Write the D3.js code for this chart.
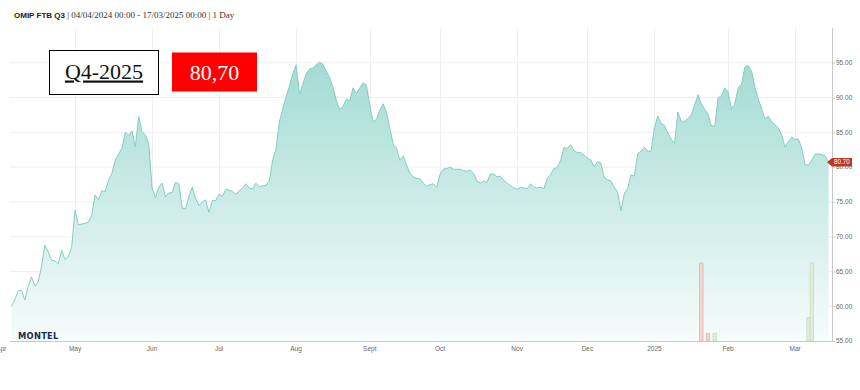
<!DOCTYPE html>
<html>
<head>
<meta charset="utf-8">
<script src="https://cdn.jsdelivr.net/npm/d3@7"></script>
<style>
body{margin:0;background:#fff;}
</style>
</head>
<body>
<script>
var canvaswidth=860;
var canvasheight=390;

// daily closes, one per trading day from 04/04/2024 (index 0) to 17/03/2025 (index 244)
var prices=[60.0,60.9,62.2,62.3,60.9,62.8,64.2,62.9,63.5,65.7,68.8,67.8,66.6,66.5,66.1,68.0,66.7,67.1,68.5,73.8,
71.7,71.8,71.9,72.1,73.1,76.0,75.3,76.6,76.5,78.1,79.1,81.0,81.9,82.7,85.0,84.6,85.2,82.9,87.3,85.1,
84.6,83.4,77.0,75.6,77.1,77.7,75.7,76.3,76.3,77.8,77.6,74.1,74.0,75.8,77.1,75.5,74.5,75.0,75.3,73.5,
75.2,75.2,76.1,75.8,76.8,76.7,76.5,76.1,76.6,77.0,77.6,77.0,76.9,77.7,77.2,77.3,77.4,78.0,81.0,82.6,
86.5,88.3,90.1,91.6,93.4,94.7,90.5,91.9,93.4,94.1,94.2,94.7,95.1,94.8,93.8,92.9,91.5,89.6,88.3,88.7,
89.8,89.5,91.4,90.6,91.4,92.1,91.8,88.9,86.5,86.9,88.2,89.1,87.9,85.6,83.3,82.7,81.0,81.6,80.3,79.1,
78.6,78.4,78.3,77.7,77.2,77.5,77.6,77.1,79.0,79.7,79.8,80.0,79.7,79.7,79.7,79.5,79.4,79.6,79.1,78.0,
77.7,78.0,77.8,79.0,79.0,78.6,78.7,78.1,77.7,77.3,77.0,76.8,77.1,77.0,76.9,77.6,77.1,77.0,77.1,76.9,
78.4,78.9,79.8,79.9,81.0,82.8,82.7,83.2,82.4,82.1,82.1,81.7,81.3,81.0,80.1,80.8,80.6,78.5,78.2,78.0,
77.1,76.4,73.7,76.2,76.9,78.9,78.7,81.9,82.3,82.8,82.3,82.3,85.7,87.3,86.3,86.0,84.9,84.0,83.4,87.9,
86.6,86.6,87.0,87.5,88.9,90.4,89.1,88.3,87.6,85.9,85.9,89.9,90.3,91.4,90.8,88.3,89.1,91.4,91.9,94.4,
94.6,93.8,91.5,89.8,88.4,87.0,87.3,86.5,86.1,85.6,84.6,82.9,83.7,84.3,84.0,84.0,82.7,80.3,80.3,81.0,
81.9,81.9,81.8,81.6,80.7];

// traded volume, on the trading day index
var volumeDays=[206,208,210,238,239];
var volumes=[50,5,5,15,50];

// month ticks, on the trading day index (Apr 1 falls before the first day)
var monthLabels=["Apr","May","Jun","Jul","Aug","Sept","Oct","Nov","Dec","2025","Feb","Mar"];
var monthDays=[-3,19,42,62,85,107,128,151,172,192,214,234];

var yTicks=[55,60,65,70,75,80,85,90,95];
var contractName="Q4-2025";
var lastLabel="80,70";

var plotleft=10, plotright=832, plottop=28, plotbottom=341;

var svg=d3.select("body").append("svg").attr("width",canvaswidth).attr("height",canvasheight);

var x=d3.scaleLinear().domain([0,prices.length-1]).range([11.4,828.6]);
var y=d3.scaleLinear().domain([55,100]).range([plotbottom,plottop]);
var vy=d3.scaleLinear().domain([0,d3.max(volumes)]).range([plotbottom,263]);

//gradient for the area
var grad=svg.append("defs").append("linearGradient").attr("id","areagrad")
	.attr("gradientUnits","userSpaceOnUse").attr("x1",0).attr("x2",0).attr("y1",y(95)).attr("y2",plotbottom);
grad.append("stop").attr("offset","0%").attr("stop-color","#a4dbd4");
grad.append("stop").attr("offset","100%").attr("stop-color","#f6fcfb");

//grid
svg.append("g").selectAll("line").data(yTicks.slice(1)).enter().append("line")
	.attr("x1",plotleft).attr("x2",plotright).attr("y1",function(d){return y(d)}).attr("y2",function(d){return y(d)})
	.attr("stroke","#efefef").attr("stroke-width",1);
svg.append("g").selectAll("line").data(monthDays.slice(1)).enter().append("line")
	.attr("x1",function(d){return Math.round(x(d))+0.5}).attr("x2",function(d){return Math.round(x(d))+0.5})
	.attr("y1",plottop).attr("y2",plotbottom).attr("stroke","#efefef").attr("stroke-width",1);

//price area + line
var area=d3.area().x(function(d,i){return x(i)}).y0(plotbottom).y1(function(d){return y(d)});
var line=d3.line().x(function(d,i){return x(i)}).y(function(d){return y(d)});
svg.append("path").datum(prices).attr("d",area).attr("fill","url(#areagrad)");
svg.append("path").datum(prices).attr("d",line).attr("fill","none").attr("stroke","#86cdc3").attr("stroke-width",1);

//volume bars, red when the price fell that day
svg.append("g").selectAll("rect").data(volumes).enter().append("rect")
	.attr("x",function(d,i){return x(volumeDays[i])-1.7}).attr("width",3.4)
	.attr("y",function(d){return vy(d)}).attr("height",function(d){return plotbottom-vy(d)})
	.attr("fill",function(d,i){var k=volumeDays[i];return prices[k]<prices[k-1]?"#f2d6d2":"#e2ecdc"})
	.attr("stroke",function(d,i){var k=volumeDays[i];return prices[k]<prices[k-1]?"#e2b5ae":"#c9dcc0"})
	.attr("stroke-width",0.8);

//axes
var xaxis=svg.append("g").attr("transform","translate(0,"+plotbottom+")");
xaxis.append("line").attr("x1",plotleft).attr("x2",plotright).attr("y1",0.5).attr("y2",0.5).attr("stroke","#c8c8c8");
xaxis.selectAll("text").data(monthLabels).enter().append("text")
	.attr("x",function(d,i){return x(monthDays[i])}).attr("y",10).attr("text-anchor","middle")
	.attr("font-family","Liberation Sans, Arial, sans-serif").attr("font-size",6.5).attr("fill","#666").text(function(d){return d});

var yaxis=svg.append("g");
yaxis.append("line").attr("x1",plotright+0.5).attr("x2",plotright+0.5).attr("y1",plottop).attr("y2",plotbottom).attr("stroke","#c8c8c8");
yaxis.selectAll("line.tk").data(yTicks).enter().append("line").attr("class","tk")
	.attr("x1",plotright).attr("x2",plotright+3).attr("y1",function(d){return y(d)+0.5}).attr("y2",function(d){return y(d)+0.5}).attr("stroke","#c8c8c8");
yaxis.selectAll("text").data(yTicks).enter().append("text")
	.attr("x",plotright+4).attr("y",function(d){return y(d)+2.3})
	.attr("font-family","Liberation Sans, Arial, sans-serif").attr("font-size",6.5).attr("fill","#666").text(function(d){return d.toFixed(2)});

//last price tag
var last=prices[prices.length-1];
var ly=y(last);
svg.append("path").attr("d","M"+(plotright-5)+","+ly+" L"+(plotright)+","+(ly-4.3)+" L"+(plotright+20)+","+(ly-4.3)+" L"+(plotright+20)+","+(ly+4.3)+" L"+plotright+","+(ly+4.3)+" Z")
	.attr("fill","#b93a25");
svg.append("text").attr("x",plotright+10).attr("y",ly+2.2).attr("text-anchor","middle").attr("font-family","Liberation Sans, Arial, sans-serif")
	.attr("font-size",6.3).attr("fill","white").text(last.toFixed(2));

//logo
svg.append("text").attr("x",18).attr("y",338.5).attr("font-family","DejaVu Sans, sans-serif").attr("font-weight","bold")
	.attr("font-size",8.3).attr("letter-spacing",0.3).attr("fill","#1b2c4e").text("MONTEL");

//title
var title=svg.append("text").attr("x",14).attr("y",18).attr("fill","#222");
title.append("tspan").attr("font-family","Liberation Sans, Arial, sans-serif").attr("font-weight","bold").attr("font-size",8).text("OMIP FTB Q3");
title.append("tspan").attr("font-family","Liberation Serif, Georgia, serif").attr("font-size",9).attr("fill","#333").text(" | 04/04/2024 00:00 - 17/03/2025 00:00 | 1 Day");

//contract and price boxes
svg.append("rect").attr("x",49.5).attr("y",50.5).attr("width",109).attr("height",44).attr("fill","white").attr("stroke","black").attr("stroke-width",1);
svg.append("text").attr("x",104).attr("y",78.5).attr("text-anchor","middle").attr("font-family","Liberation Serif, serif").attr("font-size",22)
	.attr("text-decoration","underline").attr("fill","#111").text(contractName);
svg.append("rect").attr("x",172).attr("y",52.5).attr("width",85).attr("height",39).attr("fill","#ff0000");
svg.append("text").attr("x",214.5).attr("y",80).attr("text-anchor","middle").attr("font-family","Liberation Serif, serif").attr("font-size",22)
	.attr("fill","white").text(lastLabel);
</script>
</body>
</html>
